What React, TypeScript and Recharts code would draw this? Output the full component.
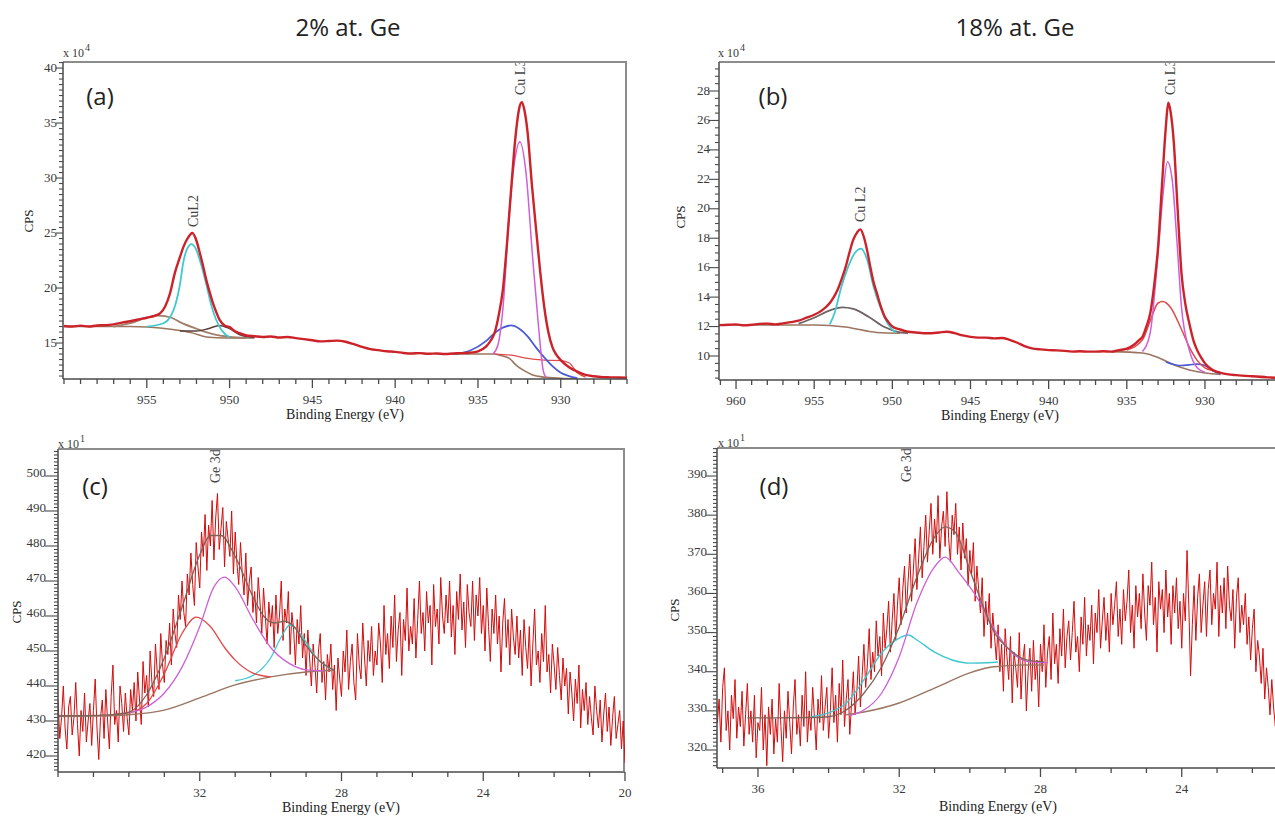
import React from 'react';
import { LineChart, Line, XAxis, YAxis, ReferenceLine } from 'recharts';

type Pt = [number, number];

// ---------- (a) Cu 2p, 2% at. Ge  (CPS x 10^4) ----------
const aRaw: Pt[] = [
  [960.0, 16.55], [959.5, 16.5], [959.0, 16.58], [958.5, 16.5], [958.0, 16.6], [957.5, 16.62],
  [957.0, 16.7], [956.5, 16.85], [956.0, 16.98], [955.5, 17.15], [955.0, 17.3], [954.5, 17.5],
  [954.2, 17.7], [953.9, 18.3], [953.6, 19.5], [953.3, 21.4], [953.0, 22.8], [952.8, 23.7],
  [952.5, 24.6], [952.25, 25.0], [952.0, 24.3], [951.8, 23.2], [951.6, 22.0], [951.4, 20.7],
  [951.2, 19.6], [951.0, 18.6], [950.8, 17.8], [950.6, 17.1], [950.3, 16.6], [950.0, 16.45],
  [949.7, 16.1], [949.4, 15.9], [949.0, 15.7], [948.5, 15.62], [948.0, 15.55], [947.5, 15.6],
  [947.0, 15.5], [946.5, 15.55], [946.0, 15.45], [945.5, 15.35], [945.0, 15.25], [944.5, 15.15],
  [944.0, 15.18], [943.5, 15.22], [943.0, 15.12], [942.5, 14.9], [942.0, 14.65], [941.5, 14.45],
  [941.0, 14.35], [940.5, 14.25], [940.0, 14.2], [939.5, 14.1], [939.0, 14.05], [938.5, 14.08],
  [938.0, 14.02], [937.5, 14.05], [937.0, 14.0], [936.5, 14.05], [936.0, 14.08], [935.5, 14.12],
  [935.0, 14.25], [934.5, 14.7], [934.2, 15.3], [934.0, 15.9], [933.75, 17.5], [933.5, 19.8],
  [933.25, 24.0], [933.0, 28.9], [932.75, 33.5], [932.5, 36.4], [932.35, 36.9], [932.2, 36.2],
  [932.0, 34.1], [931.75, 29.5], [931.5, 25.5], [931.25, 21.6], [931.0, 18.3], [930.75, 16.0],
  [930.5, 14.6], [930.25, 13.9], [930.0, 13.45], [929.5, 12.8], [929.0, 12.4], [928.5, 12.1],
  [928.0, 11.98], [927.5, 11.9], [927.0, 11.88], [926.5, 11.86], [926.0, 11.85],
];
const aL2Main: Pt[] = [
  [955, 16.5], [954, 16.8], [953.5, 17.6], [953.25, 18.6], [953, 20.3], [952.8, 22.3], [952.55, 23.6],
  [952.3, 24.0], [952.05, 23.6], [951.75, 22.3], [951.4, 20.3], [951.1, 18.4], [950.5, 16.2], [950, 15.5],
];
const aL2Sat: Pt[] = [
  [957, 16.5], [956, 16.8], [955, 17.3], [954.3, 17.5], [953.5, 17.3], [953, 16.9], [952, 16.3],
  [951, 15.8], [950, 15.55], [949, 15.45],
];
const aL2Small: Pt[] = [
  [953, 16.1], [952, 16.1], [951.3, 16.3], [950.6, 16.6], [950, 16.3], [949.3, 15.7], [948.5, 15.5],
];
const aL2Bg: Pt[] = [
  [960, 16.5], [956, 16.5], [955, 16.45], [953.8, 16.3], [952.2, 15.9], [951.4, 15.55], [950.2, 15.45],
  [948.5, 15.45],
];
const aL3Main: Pt[] = [
  [934.1, 14.0], [933.8, 14.8], [933.5, 18.0], [933.1, 27.0], [932.8, 31.4], [932.47, 33.3],
  [932.1, 30.5], [931.7, 22.8], [931.36, 16.8], [931.06, 12.5], [930.9, 11.9],
];
const aL3Broad: Pt[] = [
  [936.5, 14.0], [935.5, 14.3], [934.5, 15.2], [934, 15.9], [933.5, 16.4], [933, 16.6], [932.5, 16.3],
  [932, 15.6], [931.5, 14.6], [931, 13.7], [930.5, 12.9], [930, 12.3], [929.5, 12.0], [929, 11.8],
];
const aL3Bg: Pt[] = [
  [937, 14.0], [934, 14.0], [933.7, 13.9], [933.1, 13.6], [932.7, 13.0], [932.1, 12.4], [931.7, 12.1],
  [931, 11.9], [930, 11.8], [929, 11.75],
];
const aL3Bg2: Pt[] = [
  [934, 14.0], [933, 13.9], [932, 13.6], [931, 13.45], [930, 13.4], [929.5, 13.2], [929, 12.3], [928.5, 11.9],
];

// ---------- (b) Cu 2p, 18% at. Ge  (CPS x 10^4) ----------
const bRaw: Pt[] = [
  [961.1, 12.1], [960.5, 12.12], [960.0, 12.15], [959.5, 12.08], [959.0, 12.12], [958.5, 12.18],
  [958.0, 12.2], [957.5, 12.15], [957.0, 12.22], [956.5, 12.3], [956.0, 12.4], [955.5, 12.6],
  [955.0, 12.8], [954.5, 13.1], [954.0, 13.6], [953.75, 14.0], [953.5, 14.5], [953.25, 15.2],
  [953.0, 16.0], [952.75, 17.0], [952.5, 17.9], [952.25, 18.4], [952.05, 18.6], [951.8, 18.0],
  [951.6, 17.1], [951.4, 16.0], [951.2, 15.0], [951.0, 14.3], [950.75, 13.4], [950.5, 12.7],
  [950.25, 12.3], [950.0, 12.0], [949.5, 11.8], [949.0, 11.65], [948.5, 11.6], [948.0, 11.55],
  [947.5, 11.55], [947.0, 11.6], [946.5, 11.65], [946.0, 11.55], [945.5, 11.4], [945.0, 11.3],
  [944.5, 11.25], [944.0, 11.25], [943.5, 11.2], [943.0, 11.22], [942.5, 11.1], [942.0, 10.9],
  [941.5, 10.65], [941.0, 10.5], [940.5, 10.45], [940.0, 10.4], [939.5, 10.38], [939.0, 10.35],
  [938.5, 10.3], [938.0, 10.32], [937.5, 10.3], [937.0, 10.3], [936.5, 10.32], [936.0, 10.3],
  [935.5, 10.4], [935.0, 10.5], [934.5, 10.8], [934.2, 11.1], [934.0, 11.3], [933.75, 12.0],
  [933.5, 12.9], [933.25, 14.8], [933.0, 17.4], [932.75, 21.6], [932.5, 25.6], [932.35, 27.2],
  [932.2, 26.6], [932.0, 24.6], [931.75, 20.0], [931.5, 15.6], [931.25, 13.5], [931.0, 12.2],
  [930.75, 11.1], [930.5, 10.4], [930.25, 9.9], [930.0, 9.5], [929.5, 9.05], [929.0, 8.85],
  [928.5, 8.75], [928.0, 8.7], [927.0, 8.62], [926.0, 8.55], [925.0, 8.5], [924.5, 8.48],
];
const bL2Main: Pt[] = [
  [954.0, 12.15], [953.7, 12.9], [953.26, 14.7], [952.83, 16.05], [952.4, 17.0], [952.0, 17.3],
  [951.6, 16.5], [951.2, 14.7], [950.76, 13.3], [950.3, 12.2], [949.8, 11.6],
];
const bL2Sat: Pt[] = [
  [956, 12.2], [955, 12.6], [954, 13.1], [953.2, 13.3], [952.5, 13.2], [951.5, 12.65], [950.5, 11.97],
  [949.5, 11.6], [949, 11.55],
];
const bL2Bg: Pt[] = [[961, 12.1], [956, 12.1], [955, 12.1], [953, 11.97], [951, 11.6], [949.5, 11.55]];
const bL3Main: Pt[] = [
  [934, 10.3], [933.5, 11.6], [933, 17.0], [932.7, 20.8], [932.4, 23.2], [932.1, 22.0], [931.8, 17.9],
  [931.5, 13.3], [931, 10.4], [930.5, 9.2], [930, 8.9],
];
const bL3Broad: Pt[] = [
  [935, 10.4], [934, 11.1], [933.5, 12.4], [933, 13.6], [932.7, 13.7], [932.2, 13.3], [931.5, 11.8],
  [931, 10.6], [930.5, 9.7], [930, 9.2], [929.5, 9.0], [929, 8.9],
];
const bL3Small: Pt[] = [
  [932.5, 9.6], [931.5, 9.35], [931, 9.4], [930.5, 9.45], [930, 9.35], [929.5, 9.0], [929, 8.8],
];
const bL3Bg: Pt[] = [[936, 10.3], [934, 10.2], [933, 9.9], [932, 9.4], [931, 9.05], [930, 8.85], [929, 8.75]];

// ---------- (c) Ge 3d, 2% at. Ge  (CPS x 10^1), 36 -> 20 eV, 0.05 eV step, one row per eV ----------
const cRawStart = 36;
const cRawCps = [
  436, 425, 431, 440, 428, 422, 434, 437, 426, 431, 441, 429, 420, 433, 427, 438, 424, 430, 435, 423,
  433, 442, 428, 419, 431, 436, 425, 439, 430, 422, 437, 446, 429, 433, 424, 440, 435, 427, 438, 431,
  426, 439, 433, 441, 430, 444, 436, 429, 447, 438, 443, 434, 450, 441, 437, 452, 444, 439, 455, 446,
  441, 453, 449, 458, 446, 462, 455, 451, 466, 459, 470, 461, 457, 472, 466, 478, 469, 463, 481, 474,
  468, 484, 477, 489, 473, 486, 480, 493, 476, 488, 495, 479, 485, 491, 474, 487, 482, 477, 490, 472,
  484, 475, 469, 481, 472, 466, 478, 463, 470, 474, 461, 467, 458, 471, 464, 455, 468, 460, 452, 464,
  457, 463, 451, 466, 455, 460, 470, 453, 462, 458, 467, 449, 461, 456, 446, 459, 452, 463, 448, 455,
  443, 456, 448, 440, 452, 446, 438, 450, 455, 441, 447, 436, 449, 444, 452, 439, 446, 433, 448, 442,
  437, 450, 444, 456, 439, 447, 452, 441, 436, 455, 446, 442, 458, 448, 440, 453, 447, 457, 443, 450,
  446, 458, 452, 441, 463, 449, 455, 445, 460, 451, 466, 447, 456, 461, 443, 459, 453, 468, 450, 457,
  452, 465, 448, 459, 470, 455, 461, 450, 467, 458, 463, 446, 469, 457, 462, 452, 471, 460, 455, 466,
  458, 470, 454, 463, 449, 467, 459, 472, 456, 464, 451, 469, 461, 457, 470, 453, 466, 460, 471, 455,
  463, 450, 468, 457, 447, 462, 455, 466, 452, 460, 444, 458, 465, 451, 459, 446, 462, 454, 449, 460,
  448, 456, 443, 459, 451, 445, 457, 440, 452, 462, 446, 450, 441, 455, 447, 463, 444, 449, 438, 452,
  446, 439, 451, 443, 436, 448, 440, 445, 432, 444, 438, 430, 442, 435, 446, 428, 439, 433, 441, 429,
  437, 431, 426, 440, 433, 428, 436, 424, 432, 438, 427, 434, 423, 431, 437, 425, 429, 433, 422, 430,
  418,
];
const cEnvelope: Pt[] = [
  [36, 431.5], [35.5, 431.5], [35, 431.6], [34.5, 431.8], [34, 432.5], [33.5, 437.5], [33, 448],
  [32.5, 462.5], [32, 477.5], [31.7, 483], [31.4, 483], [31, 477], [30.5, 465.5], [30.2, 460],
  [29.9, 458], [29.6, 458.5], [29.3, 456.5], [29, 451.5], [28.6, 447], [28.2, 444.5],
];
const cOxide: Pt[] = [
  [34.5, 431.8], [34, 432.3], [33.5, 435], [33, 443.5], [32.5, 455], [32.1, 459.7], [31.7, 457],
  [31.3, 451], [31, 447.4], [30.5, 443.7], [30, 442.6],
];
const cMain: Pt[] = [
  [34, 432.3], [33.5, 434], [33, 438], [32.5, 445.4], [32, 457], [31.6, 468.3], [31.3, 471.1],
  [31, 468.3], [30.5, 459], [30, 451], [29.5, 446.6], [29, 444.6], [28.5, 444.3],
];
const cLow: Pt[] = [
  [31, 441.5], [30.5, 443], [30, 448], [29.7, 454], [29.45, 457.5], [29.1, 454], [28.7, 448], [28.3, 444.8],
];
const cBg: Pt[] = [
  [36, 431.3], [35, 431.4], [34, 431.8], [33, 433.1], [32, 436.6], [31, 440.3], [30, 442.6], [29, 444], [28.2, 444.5],
];

// ---------- (d) Ge 3d, 18% at. Ge  (CPS x 10^1), 37.2 -> 21.2 eV, 0.05 eV step ----------
const dRawStart = 37.2;
const dRawCps = [
  339, 327, 333, 322, 336, 341, 325, 330, 320, 334, 328, 338, 323, 331, 326, 335, 321, 329, 337, 324,
  330, 322, 334, 318, 327, 325, 336, 320, 329, 316, 331, 324, 333, 319, 328, 322, 337, 326, 317, 330,
  323, 335, 327, 319, 331, 338, 324, 329, 321, 334, 326, 340, 322, 330, 325, 336, 328, 320, 333, 327,
  339, 325, 331, 336, 323, 330, 341, 327, 334, 322, 337, 329, 343, 326, 333, 338, 324, 332, 340, 329,
  335, 344, 331, 339, 347, 336, 342, 351, 338, 345, 340, 353, 344, 349, 339, 355, 346, 351, 358, 345,
  353, 360, 348, 357, 364, 352, 361, 367, 355, 363, 370, 358, 366, 374, 361, 369, 377, 364, 372, 380,
  368, 376, 383, 370, 379, 373, 385, 369, 377, 381, 372, 386, 374, 368, 380, 375, 383, 370, 377, 366,
  378, 369, 374, 362, 371, 365, 373, 358, 367, 361, 355, 364, 349, 358, 352, 360, 346, 355, 349, 343,
  352, 340, 347, 335, 351, 344, 338, 349, 332, 345, 341, 336, 350, 333, 343, 347, 330, 340, 346, 335,
  348, 338, 343, 331, 347, 340, 352, 336, 345, 349, 338, 355, 342, 347, 337, 351, 344, 356, 341, 349,
  353, 343, 350, 358, 345, 349, 340, 354, 347, 359, 344, 352, 348, 357, 342, 355, 350, 361, 346, 353,
  359, 348, 355, 345, 360, 352, 357, 363, 349, 356, 347, 361, 353, 358, 366, 350, 357, 346, 362, 354,
  360, 351, 365, 355, 348, 362, 357, 368, 352, 359, 345, 363, 356, 361, 350, 366, 354, 360, 347, 362,
  355, 364, 351, 358, 346, 360, 353, 371, 357, 339, 352, 362, 348, 359, 365, 350, 357, 363, 349, 361,
  366, 352, 360, 356, 368, 349, 362, 355, 364, 351, 367, 357, 353, 361, 346, 359, 364, 350, 357, 352,
  360, 347, 354, 343, 351, 356, 340, 348, 344, 337, 346, 333, 341, 336, 329, 338, 331, 326, 334, 328,
  332,
];
const dEnvelope: Pt[] = [
  [36.3, 328.2], [35.5, 328.2], [34.5, 328.3], [34, 328.5], [33.5, 330.2], [33, 334.5], [32.5, 341.2],
  [32, 351.4], [31.5, 364.2], [31, 374.4], [30.7, 377], [30.4, 375.5], [30, 366], [29.7, 358.5],
  [29.3, 350], [28.85, 345.5], [28.4, 343], [27.9, 342.5],
];
const dMain: Pt[] = [
  [33.4, 328.8], [33, 330.2], [32.5, 334.5], [32, 343.8], [31.5, 357.6], [31, 366.8], [30.7, 369.3],
  [30.3, 365.2], [29.8, 359], [29.3, 350.7], [28.8, 344.8], [28.3, 342.5], [27.8, 342.3],
];
const dOxide: Pt[] = [
  [34.5, 328.5], [34, 329.5], [33.5, 332], [33, 337.9], [32.5, 344.8], [32, 348.6], [31.75, 349.4],
  [31.5, 348.1], [31, 345], [30.5, 343], [30, 342.2], [29.5, 342.3], [29.2, 342.5],
];
const dBg: Pt[] = [
  [33.5, 329], [33, 329.7], [32, 332], [31, 335.8], [30, 339.7], [29.5, 341], [29, 341.5], [28.5, 341.7], [27.9, 341.7],
];

// ---------- axis tick labels ----------
const aXLabels = [930, 935, 940, 945, 950, 955];
const aYLabels = [15, 20, 25, 30, 35, 40];
const bXLabels = [930, 935, 940, 945, 950, 955, 960];
const bYLabels = [10, 12, 14, 16, 18, 20, 22, 24, 26, 28];
const cXLabels = [20, 24, 28, 32];
const cYLabels = [420, 430, 440, 450, 460, 470, 480, 490, 500];
const dXLabels = [24, 28, 32, 36];
const dYLabels = [320, 330, 340, 350, 360, 370, 380, 390];

const SERIF = "'Liberation Serif', 'Times New Roman', serif";
const SANS = "'Open Sans', 'Noto Sans', sans-serif";
const AXIS = '#4a4a4a';
const FRAME = '#8c8c8c';
const LBL = '#3a3a3a';
const Y_W = 40;
const X_H = 30;

const C = {
  raw: '#cc2229',
  noise: '#d40b0b',
  env: '#7d6257',
  cyan: '#3fc9cf',
  magenta: '#cf5fd6',
  blue: '#4b5bd6',
  bg: '#9a7560',
  sat: '#a0806a',
  gray: '#6e6363',
  dark: '#5a3f3a',
  red: '#e04a4a',
};

const toRows = (pts: Pt[]) => pts.map(([e, v]) => ({ e, v }));
const stepRows = (start: number, step: number, vals: number[]) =>
  vals.map((v, i) => ({ e: Math.round((start - i * step) * 100) / 100, v }));

const tickRange = ([lo, hi]: [number, number], step: number) => {
  const out: number[] = [];
  for (let k = Math.ceil(lo / step - 1e-9); k <= Math.floor(hi / step + 1e-9); k++) {
    out.push(Math.round(k * step * 1000) / 1000);
  }
  return out;
};
const isMajor = (list: number[], v: number) => list.some((m) => Math.abs(m - v) < 1e-6);

function XTick(props: any) {
  const { x, y, payload, major } = props;
  const big = isMajor(major, payload.value);
  return (
    <g>
      <line x1={x} x2={x} y1={y} y2={y + (big ? 9 : 5)} stroke={AXIS} strokeWidth={1.3} />
      {big && (
        <text x={x} y={y + 20} textAnchor="middle" dominantBaseline="central" fontFamily={SERIF} fontSize={13} fill={LBL}>
          {payload.value}
        </text>
      )}
    </g>
  );
}

function YTick(props: any) {
  const { x, y, payload, major, gap, shift } = props;
  const big = isMajor(major, payload.value);
  return (
    <g>
      <line x1={x - (big ? gap + 1 : 4)} x2={x} y1={y} y2={y} stroke={AXIS} strokeWidth={1.1} />
      {big && (
        <text x={x - gap} y={y + shift} textAnchor="end" dominantBaseline="central" fontFamily={SERIF} fontSize={13} fill={LBL}>
          {payload.value}
        </text>
      )}
    </g>
  );
}

function PeakText(props: any) {
  const { viewBox, caption, drop, clipKey } = props;
  if (!viewBox) return null;
  const x = viewBox.x;
  const top = viewBox.y;
  const id = `peak-clip-${clipKey}`;
  return (
    <g>
      <defs>
        <clipPath id={id}>
          <rect x={x - 25} y={top + 1} width={50} height={drop + 10} />
        </clipPath>
      </defs>
      <g clipPath={`url(#${id})`}>
        <text transform={`translate(${x + 5},${top + drop}) rotate(-90)`} fontFamily={SERIF} fontSize={14} fill="#454545">
          {caption}
        </text>
      </g>
    </g>
  );
}

interface Series {
  rows: { e: number; v: number }[];
  color: string;
  width: number;
  curve?: 'linear' | 'monotone';
}

interface PanelCfg {
  id: string;
  box: { left: number; top: number; width: number; height: number };
  plot: { left: number; top: number; right: number; bottom: number };
  xDomain: [number, number];
  yDomain: [number, number];
  xLabels: number[];
  yLabels: number[];
  xStep: number;
  yStep: number;
  yGap: number;
  shift: number;
  series: Series[];
  peaks: { e: number; caption: string; drop: number }[];
}

function Panel({ cfg }: { cfg: PanelCfg }) {
  const { box, plot } = cfg;
  const margin = {
    left: plot.left - box.left - Y_W,
    top: plot.top - box.top,
    right: box.left + box.width - plot.right,
    bottom: box.top + box.height - plot.bottom - X_H,
  };
  return (
    <>
      {/* grey frame on the top and right side of the plot */}
      <div
        style={{
          position: 'absolute',
          left: plot.left,
          top: plot.top - 1,
          width: plot.right - plot.left,
          height: plot.bottom - plot.top,
          borderTop: `2px solid ${FRAME}`,
          borderRight: `2px solid ${FRAME}`,
          boxSizing: 'border-box',
        }}
      />
      <div style={{ position: 'absolute', left: box.left, top: box.top }}>
        <LineChart width={box.width} height={box.height} margin={margin}>
          <XAxis
            type="number"
            dataKey="e"
            domain={cfg.xDomain}
            reversed
            allowDataOverflow
            ticks={tickRange(cfg.xDomain, cfg.xStep)}
            interval={0}
            tickSize={0}
            tickMargin={0}
            tickLine={false}
            height={X_H}
            axisLine={{ stroke: AXIS, strokeWidth: 1.5 }}
            tick={<XTick major={cfg.xLabels} />}
          />
          <YAxis
            type="number"
            domain={cfg.yDomain}
            allowDataOverflow
            ticks={tickRange(cfg.yDomain, cfg.yStep)}
            interval={0}
            tickSize={0}
            tickMargin={0}
            tickLine={false}
            width={Y_W}
            axisLine={{ stroke: AXIS, strokeWidth: 1.5 }}
            tick={<YTick major={cfg.yLabels} gap={cfg.yGap} shift={cfg.shift} />}
          />
          {cfg.series.map((s, i) => (
            <Line
              key={`${cfg.id}-s${i}`}
              data={s.rows}
              dataKey="v"
              type={s.curve ?? 'monotone'}
              stroke={s.color}
              strokeWidth={s.width}
              dot={false}
              activeDot={false}
              isAnimationActive={false}
            />
          ))}
          {cfg.peaks.map((p, i) => (
            <ReferenceLine
              key={`${cfg.id}-p${i}`}
              x={p.e}
              stroke="none"
              ifOverflow="visible"
              label={<PeakText caption={p.caption} drop={p.drop} clipKey={`${cfg.id}${i}`} />}
            />
          ))}
        </LineChart>
      </div>
    </>
  );
}

const panels: PanelCfg[] = [
  {
    id: 'a',
    box: { left: 0, top: 40, width: 660, height: 390 },
    plot: { left: 63, top: 62, right: 627, bottom: 379 },
    xDomain: [926, 960.06],
    yDomain: [11.73, 40.55],
    xLabels: aXLabels,
    yLabels: aYLabels,
    xStep: 1,
    yStep: 0.5,
    yGap: 6,
    shift: -1,
    series: [
      { rows: toRows(aL2Bg), color: C.bg, width: 1.5 },
      { rows: toRows(aL2Sat), color: C.sat, width: 1.8 },
      { rows: toRows(aL2Small), color: C.dark, width: 1.4 },
      { rows: toRows(aL2Main), color: C.cyan, width: 1.8 },
      { rows: toRows(aL3Bg), color: C.bg, width: 1.6 },
      { rows: toRows(aL3Bg2), color: C.red, width: 1.2 },
      { rows: toRows(aL3Broad), color: C.blue, width: 1.8 },
      { rows: toRows(aL3Main), color: C.magenta, width: 1.5 },
      { rows: toRows(aRaw), color: C.raw, width: 2.4 },
    ],
    peaks: [
      { e: 952.2, caption: 'CuL2', drop: 165 },
      { e: 932.45, caption: 'Cu L3', drop: 33 },
    ],
  },
  {
    id: 'b',
    box: { left: 660, top: 40, width: 680, height: 390 },
    plot: { left: 719, top: 62, right: 1290, bottom: 380 },
    xDomain: [924.56, 961.09],
    yDomain: [8.37, 29.97],
    xLabels: bXLabels,
    yLabels: bYLabels,
    xStep: 1,
    yStep: 0.5,
    yGap: 9,
    shift: -1,
    series: [
      { rows: toRows(bL2Bg), color: C.bg, width: 1.5 },
      { rows: toRows(bL2Sat), color: C.gray, width: 1.8 },
      { rows: toRows(bL2Main), color: C.cyan, width: 1.8 },
      { rows: toRows(bL3Bg), color: C.bg, width: 1.6 },
      { rows: toRows(bL3Small), color: C.blue, width: 1.6 },
      { rows: toRows(bL3Broad), color: C.red, width: 1.5 },
      { rows: toRows(bL3Main), color: C.magenta, width: 1.5 },
      { rows: toRows(bRaw), color: C.raw, width: 2.4 },
    ],
    peaks: [
      { e: 952.1, caption: 'Cu L2', drop: 160 },
      { e: 932.25, caption: 'Cu L3', drop: 33 },
    ],
  },
  {
    id: 'c',
    box: { left: 0, top: 435, width: 660, height: 382 },
    plot: { left: 58, top: 449, right: 625, bottom: 772 },
    xDomain: [20, 36],
    yDomain: [415.43, 507.71],
    xLabels: cXLabels,
    yLabels: cYLabels,
    xStep: 1,
    yStep: 1,
    yGap: 12,
    shift: -3,
    series: [
      { rows: stepRows(cRawStart, 0.05, cRawCps), color: C.noise, width: 1, curve: 'linear' },
      { rows: toRows(cBg), color: C.bg, width: 1.4 },
      { rows: toRows(cLow), color: C.cyan, width: 1.3 },
      { rows: toRows(cOxide), color: C.red, width: 1.3 },
      { rows: toRows(cMain), color: C.magenta, width: 1.3 },
      { rows: toRows(cEnvelope), color: C.env, width: 1.3 },
    ],
    peaks: [{ e: 31.56, caption: 'Ge 3d', drop: 34 }],
  },
  {
    id: 'd',
    box: { left: 660, top: 435, width: 680, height: 382 },
    plot: { left: 717, top: 448, right: 1323, bottom: 768 },
    xDomain: [20, 37.16],
    yDomain: [315.4, 397.16],
    xLabels: dXLabels,
    yLabels: dYLabels,
    xStep: 1,
    yStep: 1,
    yGap: 10,
    shift: -3,
    series: [
      { rows: stepRows(dRawStart, 0.05, dRawCps), color: C.noise, width: 1, curve: 'linear' },
      { rows: toRows(dBg), color: C.bg, width: 1.4 },
      { rows: toRows(dOxide), color: C.cyan, width: 1.4 },
      { rows: toRows(dMain), color: C.magenta, width: 1.3 },
      { rows: toRows(dEnvelope), color: C.env, width: 1.3 },
    ],
    peaks: [{ e: 31.8, caption: 'Ge 3d', drop: 34 }],
  },
];

function Centered({ x, y, size, family, rotate, children }: any) {
  return (
    <div
      style={{
        position: 'absolute',
        left: x,
        top: y,
        transform: `translate(-50%, -50%)${rotate ? ' rotate(-90deg)' : ''}`,
        whiteSpace: 'nowrap',
        lineHeight: 1,
        fontSize: size,
        fontFamily: family,
        color: '#222',
      }}
    >
      {children}
    </div>
  );
}

function Scale({ x, y, exp }: { x: number; y: number; exp: string }) {
  return (
    <div style={{ position: 'absolute', left: x, top: y, fontFamily: SERIF, fontSize: 12, lineHeight: '12px', color: LBL, whiteSpace: 'nowrap' }}>
      x 10<span style={{ fontSize: 10, position: 'relative', top: -6, marginLeft: 1 }}>{exp}</span>
    </div>
  );
}

export default function App() {
  return (
    <div style={{ position: 'absolute', left: 0, top: 0, width: 1275, height: 817, overflow: 'hidden', background: '#fff' }}>
      {panels.map((p) => (
        <Panel key={p.id} cfg={p} />
      ))}

      <Centered x={348} y={27} size={24} family={SANS}>2% at. Ge</Centered>
      <Centered x={1015} y={27} size={24} family={SANS}>18% at. Ge</Centered>

      <Centered x={100} y={96} size={24} family={SANS}>(a)</Centered>
      <Centered x={773} y={96} size={24} family={SANS}>(b)</Centered>
      <Centered x={95} y={486} size={24} family={SANS}>(c)</Centered>
      <Centered x={774} y={486} size={24} family={SANS}>(d)</Centered>

      <Scale x={63} y={47} exp="4" />
      <Scale x={718} y={47} exp="4" />
      <Scale x={58} y={438} exp="1" />
      <Scale x={718} y={437} exp="1" />

      <Centered x={28} y={221} size={13} family={SERIF} rotate>CPS</Centered>
      <Centered x={680} y={217} size={13} family={SERIF} rotate>CPS</Centered>
      <Centered x={16} y={612} size={13} family={SERIF} rotate>CPS</Centered>
      <Centered x={674} y={610} size={13} family={SERIF} rotate>CPS</Centered>

      <Centered x={345} y={415} size={14} family={SERIF}>Binding Energy (eV)</Centered>
      <Centered x={1000} y={416} size={14} family={SERIF}>Binding Energy (eV)</Centered>
      <Centered x={341} y={808} size={14} family={SERIF}>Binding Energy (eV)</Centered>
      <Centered x={998} y={807} size={14} family={SERIF}>Binding Energy (eV)</Centered>
    </div>
  );
}
